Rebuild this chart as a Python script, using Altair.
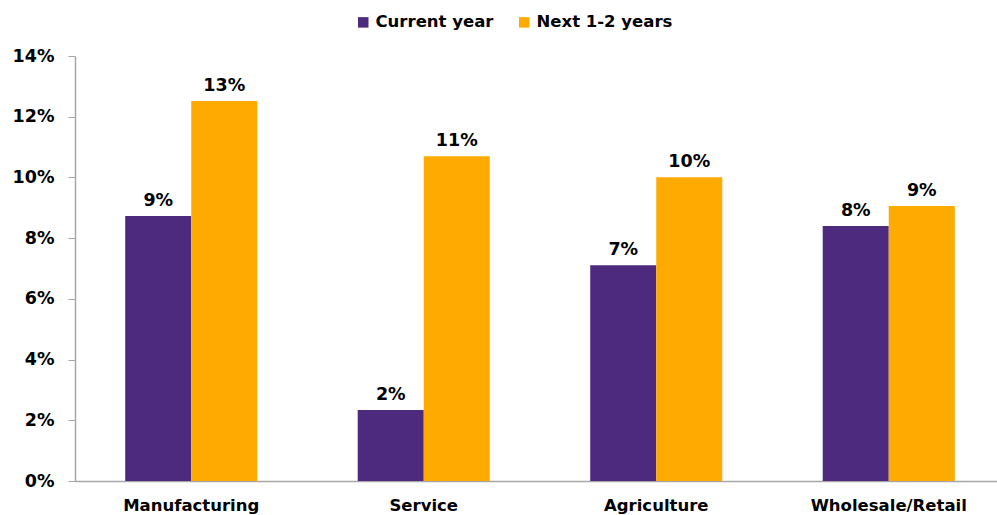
import altair as alt
import pandas as pd

categories = ["Manufacturing", "Service", "Agriculture", "Wholesale/Retail"]
series = ["Current year", "Next 1-2 years"]
current_year = [0.0873, 0.0234, 0.0711, 0.0840]
next_years = [0.1252, 0.1070, 0.1001, 0.0906]
y_ticks = [0, 0.02, 0.04, 0.06, 0.08, 0.10, 0.12, 0.14]
colors = ["#4E2A7F", "#FFAA00"]

rows = []
for c, a, b in zip(categories, current_year, next_years):
    rows.append({"category": c, "series": series[0], "value": a})
    rows.append({"category": c, "series": series[1], "value": b})
df = pd.DataFrame(rows)

FONT = "DejaVu Sans"

x = alt.X("category:N", sort=categories, title=None,
          scale=alt.Scale(range=[0, 930], paddingInner=0.432, paddingOuter=0.216),
          axis=alt.Axis(labelAngle=0, labelFont=FONT, labelFontWeight="bold",
                        labelFontSize=16.5, labelColor="black", ticks=False,
                        labelPadding=16, domainColor="#A6A6A6", domainWidth=1.5,
                        grid=False))
y = alt.Y("value:Q", title=None,
          scale=alt.Scale(domain=[0, 0.14], nice=False),
          axis=alt.Axis(values=y_ticks, format=".0%", grid=False, labelFont=FONT,
                        labelFontWeight="bold", labelFontSize=17.5, labelColor="black",
                        tickSize=7, tickColor="#A6A6A6", labelPadding=14,
                        domainColor="#A6A6A6", domainWidth=1.5))
xo = alt.XOffset("series:N", sort=series)

bars = alt.Chart(df).mark_bar().encode(
    x=x, y=y, xOffset=xo,
    color=alt.Color("series:N", sort=series,
                    scale=alt.Scale(domain=series, range=colors),
                    legend=alt.Legend(title=None, orient="none", direction="horizontal",
                                      legendX=280, legendY=-42, symbolType="square",
                                      symbolSize=110, symbolStrokeWidth=0,
                                      labelFont=FONT, labelFontWeight="bold",
                                      labelFontSize=16.5, labelColor="black",
                                      columnPadding=22, labelOffset=4)),
)

labels = alt.Chart(df).mark_text(font=FONT, fontWeight="bold", fontSize=17.5,
                                 color="black", baseline="alphabetic", dy=-10).encode(
    x=x, y=y, xOffset=xo,
    text=alt.Text("value:Q", format=".0%"),
)

chart = alt.layer(bars, labels).properties(
    width=922, height=425,
    autosize=alt.AutoSizeParams(type="none"),
    padding={"left": 75, "top": 56, "right": 0, "bottom": 34},
    background="white",
).configure_view(stroke=None)

chart.save("out.html", embed_options={"renderer": "svg", "actions": False})
